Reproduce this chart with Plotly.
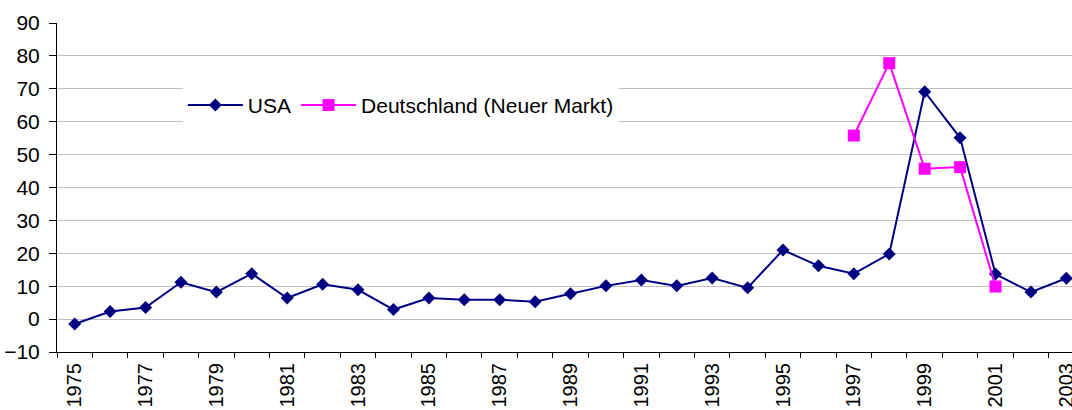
import plotly.graph_objects as go

years = list(range(1975, 2004))
usa = [-1.5, 2.3, 3.5, 11.2, 8.2, 13.8, 6.4, 10.6, 8.9, 2.9,
       6.4, 5.9, 5.9, 5.3, 7.7, 10.1, 11.9, 10.1, 12.5, 9.5,
       21.0, 16.2, 13.8, 19.8, 69.1, 55.1, 13.7, 8.2, 12.4]
de_years = [1997, 1998, 1999, 2000, 2001]
de = [55.8, 77.8, 45.7, 46.2, 9.9]
xtick_labels = [str(y) for y in range(1975, 2004, 2)]

fig = go.Figure()
fig.add_trace(go.Scatter(
    x=years, y=usa, mode="lines+markers", name="USA",
    line=dict(color="#000080", width=2),
    marker=dict(symbol="diamond", size=10, color="#000080"),
    cliponaxis=False))
fig.add_trace(go.Scatter(
    x=de_years, y=de, mode="lines+markers", name="Deutschland (Neuer Markt)",
    line=dict(color="#FF00FF", width=2),
    marker=dict(symbol="square", size=12, color="#FF00FF"),
    cliponaxis=False))

fig.update_layout(
    width=1072, height=410,
    margin=dict(l=57, r=0, t=23, b=58),
    paper_bgcolor="white", plot_bgcolor="white",
    font=dict(family="Liberation Sans, Arial, sans-serif", size=21, color="black"),
    legend=dict(orientation="h", x=0.124, y=0.75, xanchor="left", yanchor="middle",
                bgcolor="white", itemwidth=55, font=dict(size=21),
                tracegroupgap=0),
    showlegend=True,
)
fig.update_xaxes(
    range=[1974.5, 2003.16], automargin=False, ticklabeloverflow="allow",
    tickmode="array", tickvals=[int(t) for t in xtick_labels], ticktext=xtick_labels,
    tickangle=-90, ticks="", showgrid=False, zeroline=False, tickfont=dict(size=20),
    showline=True, linecolor="black", linewidth=1, ticklabelstandoff=2,
    minor=dict(tickmode="array", tickvals=[y - 0.5 for y in years],
               ticks="outside", ticklen=5, tickcolor="black", showgrid=False),
)
fig.update_yaxes(
    range=[-10, 90], dtick=10, tick0=0, automargin=False,
    ticks="outside", ticklen=7, tickcolor="black", ticklabelstandoff=5,
    showgrid=True, gridcolor="#c0c0c0", gridwidth=1,
    zeroline=False, showline=True, linecolor="black", linewidth=1,
)

fig.write_html(
    "out.html",
    config={"displayModeBar": False},
    post_script="document.body.style.margin='0';document.body.style.overflow='hidden';",
)
